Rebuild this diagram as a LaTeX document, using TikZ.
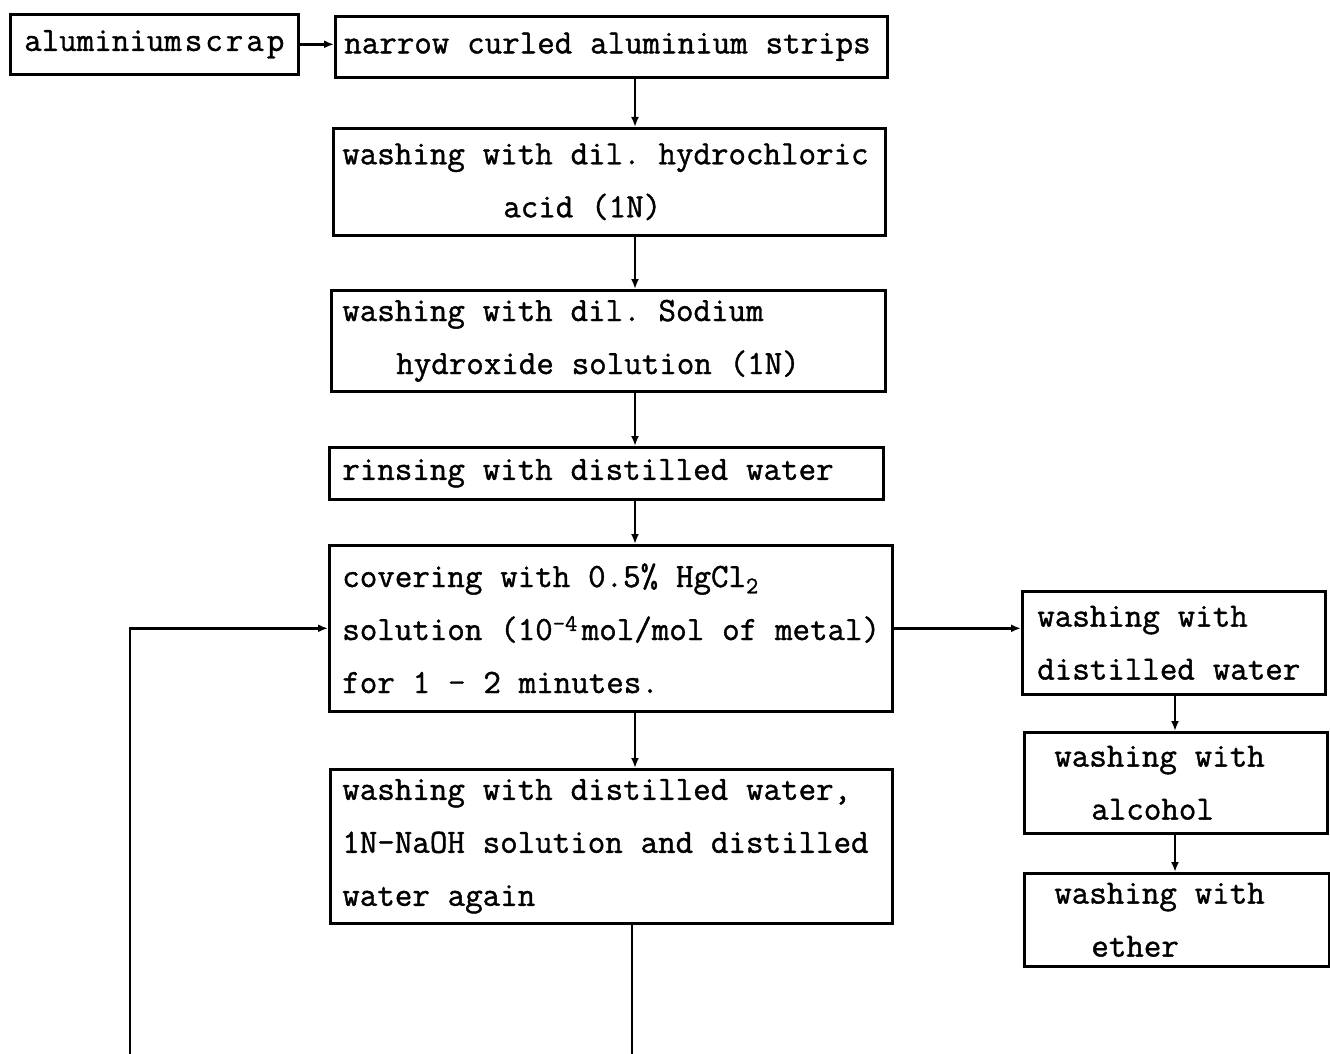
\documentclass[tikz,border=0pt]{standalone}
\usepackage{fontspec}
\newfontfamily\twfont[FakeBold=1.2]{Latin Modern Mono}
\newcommand{\boxfont}{\twfont\fontsize{34}{53}\selectfont}
\newcommand{\ind}[1]{\spaceskip=17.85pt\relax\xspaceskip=17.85pt\relax\hspace*{#1pt}}
\usetikzlibrary{arrows.meta}
\begin{document}
\begin{tikzpicture}[x=1pt,y=-1pt,
  box/.style={draw, line width=2.6pt, anchor=north west, inner xsep=0pt, inner ysep=0pt,
    align=left, font=\boxfont},
  arr/.style={line width=2.8pt, -{Latex[length=10pt,width=8pt]}},
  ln/.style={line width=2.8pt}]
\useasboundingbox (0,0) rectangle (1330,1054);
\node[box, minimum width=288, minimum height=60, text width=288, align=center] (b1) at (9,13) {aluminium\kern3pt s\kern3pt c\kern3pt r\kern3pt a\kern3pt p};
\node[box, minimum width=552, minimum height=61, text width=552] (b2) at (334,15) {\ind{9}narrow curled aluminium strips};
\node[box, minimum width=552, minimum height=107, text width=552] (b3) at (332,127) {\ind{9}washing with dil. hydrochloric\\\ind{170}acid (1N)};
\node[box, minimum width=554, minimum height=101, text width=554] (b4) at (330,289) {\ind{11}washing with dil. Sodium\\\ind{65}hydroxide solution (1N)};
\node[box, minimum width=554, minimum height=52, text width=554] (b5) at (328,446) {\ind{13}rinsing with distilled water};
\node[box, minimum width=563, minimum height=166, text width=563] (b6) at (328,544) {\ind{13}covering with 0.5\% HgCl\textsubscript{2}\\\ind{13}solution (10\textsuperscript{-4}\kern4pt mol/mol of metal)\\\ind{13}for 1 - 2 minutes.};
\node[box, minimum width=562, minimum height=154, text width=562] (b7) at (329,768) {\ind{12}washing with distilled water,\\\ind{12}1N-NaOH solution and distilled\\\ind{12}water again};
\node[box, minimum width=303, minimum height=103, text width=303] (b8) at (1021,590) {\ind{15}washing with\\\ind{15}distilled water};
\node[box, minimum width=303, minimum height=101, text width=303] (b9) at (1023,731) {\ind{30}washing with\\\ind{67}alcohol};
\node[box, minimum width=305, minimum height=93, text width=305] (b10) at (1023,872) {\ind{30}washing with\\\ind{67}ether};
\coordinate (sp) at (635,0);
\coordinate (rsp) at (1175,0);
\coordinate (lb) at (632,1054);
\coordinate (lf) at (130,1054);
\draw[arr] (b1.east) -- (b1.east -| b2.west);
\draw[arr] (b2.south -| sp) -- (b3.north -| sp);
\draw[arr] (b3.south -| sp) -- (b4.north -| sp);
\draw[arr] (b4.south -| sp) -- (b5.north -| sp);
\draw[arr] (b5.south -| sp) -- (b6.north -| sp);
\draw[arr] (b6.south -| sp) -- (b7.north -| sp);
\draw[arr] (b6.east) -- (b6.east -| b8.west);
\draw[arr] (b8.south -| rsp) -- (b9.north -| rsp);
\draw[arr] (b9.south -| rsp) -- (b10.north -| rsp);
\draw[ln] (b7.south -| lb) -- (lb);
\draw[arr] (lf) |- (b6.west);
\end{tikzpicture}
\end{document}
